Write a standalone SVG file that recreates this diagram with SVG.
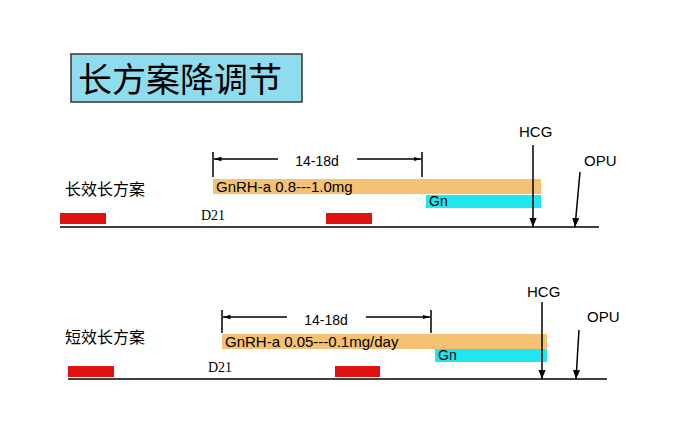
<svg xmlns="http://www.w3.org/2000/svg" width="681" height="424" viewBox="0 0 681 424">
<style>
.s{font-family:"Liberation Sans","Noto Sans CJK SC",sans-serif;fill:#000}
.cj{font-family:"Noto Sans CJK SC",sans-serif;fill:#000}
.d{font-family:"Liberation Serif",serif;font-size:14px}
.ln{stroke:#000;stroke-width:1.5;fill:none}
.or{fill:#f5c172}.cy{fill:#22e6ee}.rd{fill:#e01010}
</style>
<defs>
<marker id="ah" viewBox="0 0 10 10" refX="10" refY="5" markerWidth="6" markerHeight="6" orient="auto"><path d="M0,1L10,5L0,9z" fill="#000"/></marker>
<marker id="dh" viewBox="0 0 10 10" refX="10" refY="5" markerWidth="5" markerHeight="5" orient="auto"><path d="M0,2L10,5L0,8z" fill="#000"/></marker>
</defs>
<rect width="681" height="424" fill="#fff"/>
<g id="title"><rect x="71" y="54" width="231" height="48" fill="#8fdcee" stroke="#333" stroke-width="1.5"/><text class="cj" x="78" y="92" font-size="34">长方案降调节</text></g>
<g id="plan1">
<text class="cj" x="65" y="195" font-size="16">长效长方案</text>
<rect class="or" x="213" y="179" width="328" height="15"/>
<text class="s" x="216" y="192" font-size="15">GnRH-a 0.8---1.0mg</text>
<rect class="cy" x="426" y="195" width="115" height="13"/>
<text class="s" x="429" y="206" font-size="14" fill="#333">Gn</text>
<rect class="rd" x="60" y="213" width="46" height="11"/>
<rect class="rd" x="326" y="213" width="46" height="11"/>
<text class="d" x="201" y="220">D21</text>
<text class="s" x="317" y="166" font-size="14" text-anchor="middle">14-18d</text>
<text class="s" x="519" y="137" font-size="15">HCG</text>
<text class="s" x="584" y="166" font-size="15">OPU</text>
</g>
<g id="plan2">
<text class="cj" x="65" y="343" font-size="16">短效长方案</text>
<rect class="or" x="222" y="334" width="325" height="15"/>
<text class="s" x="225" y="347" font-size="15">GnRH-a 0.05---0.1mg/day</text>
<rect class="cy" x="435" y="349" width="112" height="13"/>
<text class="s" x="438" y="360" font-size="14" fill="#333">Gn</text>
<rect class="rd" x="68" y="366" width="46" height="11"/>
<rect class="rd" x="335" y="366" width="45" height="11"/>
<text class="d" x="208" y="372">D21</text>
<text class="s" x="326" y="325" font-size="14" text-anchor="middle">14-18d</text>
<text class="s" x="527" y="297" font-size="15">HCG</text>
<text class="s" x="587" y="322" font-size="15">OPU</text>
</g>
<g id="connectors">
<path class="ln" d="M60,227H599"/>
<path class="ln" stroke-width="1" d="M213,152V177M422,152V177"/>
<path class="ln" stroke-width="1" d="M278,159H214" marker-end="url(#dh)"/>
<path class="ln" stroke-width="1" d="M357,159H421" marker-end="url(#dh)"/>
<path class="ln" d="M533,145V227" marker-end="url(#ah)"/>
<path class="ln" d="M580,172L575,227" marker-end="url(#ah)"/>
<path class="ln" d="M68,379H607"/>
<path class="ln" stroke-width="1" d="M222,310V333M431,310V333"/>
<path class="ln" stroke-width="1" d="M287,317H223" marker-end="url(#dh)"/>
<path class="ln" stroke-width="1" d="M366,317H430" marker-end="url(#dh)"/>
<path class="ln" d="M542,302V379" marker-end="url(#ah)"/>
<path class="ln" d="M579,330L576,379" marker-end="url(#ah)"/>
</g>
</svg>
